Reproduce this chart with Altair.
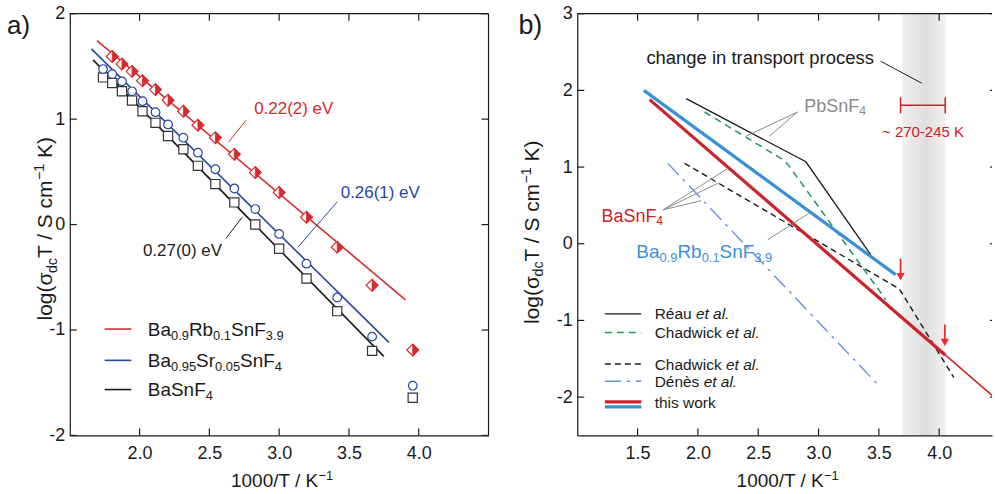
import altair as alt
import pandas as pd

FONT = "Liberation Sans, Arial, Helvetica, sans-serif"

# ---------------- panel a) data ----------------
inv_T = [1.738, 1.804, 1.874, 1.946, 2.021, 2.114, 2.204, 2.314, 2.418, 2.543,
         2.679, 2.829, 3.0, 3.196, 3.416, 3.666, 3.957]
y_BaSnF4 = [1.396, 1.342, 1.264, 1.176, 1.075, 0.965, 0.840, 0.714, 0.557, 0.384,
            0.210, 0.0, -0.229, -0.512, -0.821, -1.198, -1.642]
y_BaSr = [1.475, 1.427, 1.358, 1.264, 1.170, 1.066, 0.950, 0.824, 0.682, 0.525,
          0.342, 0.147, -0.089, -0.371, -0.692, -1.063, -1.528]
y_BaRb = [1.594, 1.522, 1.453, 1.365, 1.280, 1.179, 1.075, 0.943, 0.824, 0.667,
          0.493, 0.305, 0.069, -0.214, -0.575, -1.189]   # from inv_T[1:]
fit_BaRb_x = [1.695, 3.905]; fit_BaRb_y = [1.745, -0.714]
fit_BaSr_x = [1.655, 3.786]; fit_BaSr_y = [1.666, -1.118]
fit_BaSnF4_x = [1.667, 3.75]; fit_BaSnF4_y = [1.562, -1.25]
xticks_a = [2.0, 2.5, 3.0, 3.5, 4.0]
yticks_a = [-2, -1, 0, 1, 2]

# ---------------- panel b) data ----------------
reau_x = [1.903, 2.895, 3.432]; reau_y = [1.892, 1.069, -0.143]
chadPb_x = [2.055, 2.688, 2.722, 2.752, 3.556]; chadPb_y = [1.718, 1.113, 1.078, 1.022, -0.727]
chadBa_x = [1.89, 3.67, 4.121]; chadBa_y = [1.048, -0.59, -1.744]
denes_x = [1.75, 3.488]; denes_y = [1.048, -1.831]
work_Ba_x = [1.60, 4.05]; work_Ba_y = [1.88, -1.45]
work_Ba_ext_x = [4.05, 4.438]; work_Ba_ext_y = [-1.45, -1.977]
work_BaRb_x = [1.552, 3.639]; work_BaRb_y = [2.0, -0.403]
band_x = [3.694, 4.052]
range_x = [3.68, 4.05]; range_y = 1.805
arrow_x = [3.68, 4.047]; arrow_top = [-0.195, -1.052]; arrow_tip = [-0.50, -1.355]
xticks_b = [1.5, 2.0, 2.5, 3.0, 3.5, 4.0]
yticks_b = [-2, -1, 0, 1, 2, 3]

# ---------------- geometry / colours ----------------
WA, HA = 420, 423
WB, HB = 416, 423
GAP = 89
kxA, kyA = WA / 3.0, HA / 4.0
kxB, kyB = WB / (4.438 - 1.0), HB / 5.5

BLACK = "#1a1a1a"
RED_A = "#d62a2e"; BLUE_A = "#2747a0"; SQ = "#333333"
RED_B = "#cc2229"; BLUE_B = "#3b8fd6"; GREEN = "#23955a"; DENES = "#6b8fd6"
GRAY = "#8a8a8a"; ARROW = "#ee2a2a"

xA = alt.Scale(domain=[1.5, 4.5], nice=False, zero=False)
yA = alt.Scale(domain=[-2, 2], nice=False, zero=False)
xB = alt.Scale(domain=[1.0, 4.438], nice=False, zero=False)
yB = alt.Scale(domain=[-2.5, 3], nice=False, zero=False)
axXA = alt.Axis(values=xticks_a, format=".1f", title=None, labelPadding=9, ticks=False, grid=False, labelFlush=False, zindex=2)
axYA = alt.Axis(values=yticks_a, labelExpr="'' + datum.value", title=None, labelPadding=5, ticks=False, grid=False, labelFlush=False, zindex=2)
axXB = alt.Axis(values=xticks_b, format=".1f", title=None, labelPadding=9, ticks=False, grid=False, labelFlush=False, zindex=2)
axYB = alt.Axis(values=yticks_b, labelExpr="'' + datum.value", title=None, labelPadding=5, ticks=False, grid=False, labelFlush=False, zindex=2)


def XA(f): return alt.X(f, type="quantitative", scale=xA, axis=axXA)
def YA(f): return alt.Y(f, type="quantitative", scale=yA, axis=axYA)
def XB(f): return alt.X(f, type="quantitative", scale=xB, axis=axXB)
def YB(f): return alt.Y(f, type="quantitative", scale=yB, axis=axYB)


# ---------------- rich text helper (sub/superscripts, italics) ----------------
WID = {' ': 278, '(': 333, ')': 333, '.': 278, '/': 278, '-': 333, '~': 584, '\u2212': 584,
       'a': 556, 'b': 556, 'c': 500, 'd': 556, 'e': 556, 'g': 556, 'h': 556, 'i': 222, 'k': 500,
       'l': 222, 'm': 833, 'n': 556, 'o': 556, 'p': 556, 'r': 333, 's': 500, 't': 278, 'u': 556,
       'v': 500, 'w': 722, '\u00e9': 556, '\u00e8': 556, 'B': 667, 'C': 722, 'D': 722, 'F': 611,
       'K': 667, 'P': 667, 'R': 722, 'S': 667, 'T': 611, 'V': 667, '\u03c3': 600}


def tw(s, fs):
    return sum(WID.get(ch, 556) for ch in s) * fs / 1000.0


def rich(segs, size, cx, cy, kx, ky, color, align="left", rotate=False, ss=0.68):
    pieces = []
    off = 0.0
    for txt, kind in segs:
        fs = size * ss if kind in ("sub", "sup") else size
        shift = 0.20 * size if kind == "sub" else (-0.40 * size if kind == "sup" else 0.0)
        lead = len(txt) - len(txt.lstrip(" "))
        core = txt.strip(" ")
        start = off + tw(" " * lead, fs)
        pieces.append((core, fs, start, shift, kind == "it"))
        off += tw(txt, fs)
    x0 = {"left": 0.0, "center": -off / 2.0, "right": -off}[align]
    rows = []
    for core, fs, start, shift, it in pieces:
        if not core:
            continue
        if rotate:
            x = cx + (0.36 * size + shift) / kx
            y = cy + (x0 + start) / ky
        else:
            x = cx + (x0 + start) / kx
            y = cy - (0.36 * size + shift) / ky
        rows.append(dict(x=x, y=y, t=core, fs=fs, c=color, it=it))
    return rows


def text_layers(rows, X, Y, angle=None):
    out = []
    df = pd.DataFrame(rows)
    for it in (False, True):
        d = df[df["it"] == it]
        if len(d) == 0:
            continue
        kw = dict(align="left", baseline="alphabetic", font=FONT)
        if it:
            kw["fontStyle"] = "italic"
        if angle is not None:
            kw["angle"] = angle
        out.append(alt.Chart(d).mark_text(**kw).encode(
            x=X("x"), y=Y("y"), text="t:N",
            size=alt.Size("fs:Q", scale=None), color=alt.Color("c:N", scale=None)))
    return out


def line(xs, ys, X, Y, color, width, dash=None):
    kw = dict(color=color, strokeWidth=width)
    if dash is not None:
        kw["strokeDash"] = dash
    return alt.Chart(pd.DataFrame({"x": xs, "y": ys})).mark_line(**kw).encode(x=X("x"), y=Y("y"))


def seg(x1, y1, x2, y2, X, Y, color, width=1.0):
    return alt.Chart(pd.DataFrame({"x": [x1], "y": [y1], "x2": [x2], "y2": [y2]})).mark_rule(
        color=color, strokeWidth=width).encode(x=X("x"), y=Y("y"), x2="x2", y2="y2")


one = pd.DataFrame({"a": [0]})
YT = 21  # y-title font size

# ======================= panel a) =======================
LA = []
LA.append(alt.Chart(one).mark_rect(fill="white").encode(
    x=alt.value(-70), x2=alt.value(WA + GAP / 2), y=alt.value(-13), y2=alt.value(494 - 13)))
# frame + inward ticks
LA.append(alt.Chart(one).mark_rule(color=BLACK, strokeWidth=1.2).encode(x=alt.value(0), x2=alt.value(WA), y=alt.value(0)))
LA.append(alt.Chart(one).mark_rule(color=BLACK, strokeWidth=1.2).encode(x=alt.value(WA), y=alt.value(0), y2=alt.value(HA)))
tx = pd.DataFrame({"v": xticks_a}); ty = pd.DataFrame({"v": yticks_a})
LA.append(alt.Chart(tx).mark_rule(color=BLACK, strokeWidth=1.2).encode(x=XA("v"), y=alt.value(HA), y2=alt.value(HA - 7)))
LA.append(alt.Chart(tx).mark_rule(color=BLACK, strokeWidth=1.2).encode(x=XA("v"), y=alt.value(0), y2=alt.value(7)))
LA.append(alt.Chart(ty).mark_rule(color=BLACK, strokeWidth=1.2).encode(y=YA("v"), x=alt.value(0), x2=alt.value(7)))
LA.append(alt.Chart(ty).mark_rule(color=BLACK, strokeWidth=1.2).encode(y=YA("v"), x=alt.value(WA - 7), x2=alt.value(WA)))
# fits
LA.append(line(fit_BaSnF4_x, fit_BaSnF4_y, XA, YA, BLACK, 1.6))
LA.append(line(fit_BaSr_x, fit_BaSr_y, XA, YA, BLUE_A, 1.6))
LA.append(line(fit_BaRb_x, fit_BaRb_y, XA, YA, RED_A, 1.6))
# points
dSq = pd.DataFrame({"x": inv_T, "y": y_BaSnF4})
dCi = pd.DataFrame({"x": inv_T, "y": y_BaSr})
dDi = pd.DataFrame({"x": inv_T[1:], "y": y_BaRb})
LA.append(alt.Chart(dSq).mark_point(shape="square", filled=True, fill="white", stroke=SQ, strokeWidth=1.2, size=85, opacity=1).encode(x=XA("x"), y=YA("y")))
LA.append(alt.Chart(dCi).mark_point(shape="circle", filled=True, fill="white", stroke=BLUE_A, strokeWidth=1.2, size=75, opacity=1).encode(x=XA("x"), y=YA("y")))
LA.append(alt.Chart(dDi).mark_point(shape="diamond", filled=True, fill="white", stroke=RED_A, strokeWidth=1.2, size=140, opacity=1).encode(x=XA("x"), y=YA("y")))
LA.append(alt.Chart(dDi).mark_point(shape="M0,-1L1,0L0,1Z", filled=True, fill=RED_A, stroke=RED_A, strokeWidth=0.8, size=140, opacity=1).encode(x=XA("x"), y=YA("y")))
# leaders
LA.append(seg(2.638, 0.783, 2.762, 0.988, XA, YA, RED_A, 1.0))
LA.append(seg(3.416, 0.216, 3.138, -0.21, XA, YA, BLUE_A, 1.0))
LA.append(seg(2.619, -0.131, 2.738, 0.074, XA, YA, BLACK, 1.0))
# legend lines
for yy, cc in [(-0.991, RED_A), (-1.288, BLUE_A), (-1.565, BLACK)]:
    LA.append(seg(1.75, yy, 1.941, yy, XA, YA, cc, 1.6))
rowsA = []
rowsA += rich([("0.22(2) eV", "n")], 17, 2.821, 1.102, kxA, kyA, RED_A)
rowsA += rich([("0.26(1) eV", "n")], 17, 3.441, 0.31, kxA, kyA, BLUE_A)
rowsA += rich([("0.27(0) eV", "n")], 17, 2.024, -0.241, kxA, kyA, BLACK)
rowsA += rich([("Ba", "n"), ("0.9", "sub"), ("Rb", "n"), ("0.1", "sub"), ("SnF", "n"), ("3.9", "sub")], 19, 2.059, -0.991, kxA, kyA, BLACK)
rowsA += rich([("Ba", "n"), ("0.95", "sub"), ("Sr", "n"), ("0.05", "sub"), ("SnF", "n"), ("4", "sub")], 19, 2.059, -1.288, kxA, kyA, BLACK)
rowsA += rich([("BaSnF", "n"), ("4", "sub")], 19, 2.059, -1.565, kxA, kyA, BLACK)
rowsA += rich([("1000/T / K", "n"), ("\u22121", "sup")], 19, 3.021, 2 - (481 - 13) / kyA, kxA, kyA, BLACK, align="center")
rowsA += rich([("a)", "n")], 26, 1.05, 1.90, kxA, kyA, BLACK)
LA += text_layers(rowsA, XA, YA)
rotA = rich([("log(\u03c3", "n"), ("dc", "sub"), ("T / S cm", "n"), ("\u22121", "sup"), (" K)", "n")],
            YT, 1.5 - 25 / kxA, -0.04, kxA, kyA, BLACK, align="center", rotate=True)
LA += text_layers(rotA, XA, YA, angle=270)

left = alt.layer(*LA).properties(width=WA, height=HA)

# ======================= panel b) =======================
LB = []
LB.append(alt.Chart(one).mark_rect(fill="white").encode(
    x=alt.value(-GAP / 2), x2=alt.value(WB), y=alt.value(-13), y2=alt.value(494 - 13)))
grad = alt.LinearGradient(gradient="linear", x1=0, x2=1, y1=0, y2=0,
                          stops=[alt.GradientStop(color="#efefef", offset=0),
                                 alt.GradientStop(color="#dedede", offset=0.55),
                                 alt.GradientStop(color="#f1f1f1", offset=1)])
LB.append(alt.Chart(pd.DataFrame({"b0": [band_x[0]], "b1": [band_x[1]]})).mark_rect(fill=grad).encode(
    x=XB("b0"), x2="b1", y=alt.value(0), y2=alt.value(HB)))
LB.append(alt.Chart(one).mark_rule(color=BLACK, strokeWidth=1.2).encode(x=alt.value(0), x2=alt.value(WB), y=alt.value(0)))
txb = pd.DataFrame({"v": xticks_b}); tyb = pd.DataFrame({"v": yticks_b})
LB.append(alt.Chart(txb).mark_rule(color=BLACK, strokeWidth=1.2).encode(x=XB("v"), y=alt.value(HB), y2=alt.value(HB - 7)))
LB.append(alt.Chart(txb).mark_rule(color=BLACK, strokeWidth=1.2).encode(x=XB("v"), y=alt.value(0), y2=alt.value(7)))
LB.append(alt.Chart(tyb).mark_rule(color=BLACK, strokeWidth=1.2).encode(y=YB("v"), x=alt.value(0), x2=alt.value(7)))
# inward ticks of the (off-page) right frame, only their tips are visible
LB.append(alt.Chart(tyb).mark_rule(color=BLACK, strokeWidth=1.2).encode(y=YB("v"), x=alt.value(WB - 2), x2=alt.value(WB)))
# literature lines
LB.append(line(reau_x, reau_y, XB, YB, BLACK, 1.3))
LB.append(line(chadPb_x, chadPb_y, XB, YB, GREEN, 1.5, [7, 5]))
LB.append(line(chadBa_x, chadBa_y, XB, YB, BLACK, 1.4, [6, 4]))
LB.append(line(denes_x, denes_y, XB, YB, DENES, 1.4, [16, 6, 3, 6]))
# this work
LB.append(line(work_Ba_ext_x, work_Ba_ext_y, XB, YB, RED_B, 1.5))
LB.append(line(work_Ba_x, work_Ba_y, XB, YB, RED_B, 3.2))
LB.append(line(work_BaRb_x, work_BaRb_y, XB, YB, BLUE_B, 3.2))
# leaders
for (a, b, c, d) in [(2.826, 1.718, 2.399, 1.403), (2.826, 1.718, 2.592, 1.403)]:
    LB.append(seg(a, b, c, d, XB, YB, GRAY, 1.0))
for (c, d) in [(2.248, 0.983), (2.165, 0.788), (2.027, 0.562)]:
    LB.append(seg(1.711, 0.442, c, d, XB, YB, GRAY, 1.0))
LB.append(seg(2.579, 0.052, 2.923, 0.399, XB, YB, GRAY, 1.0))
LB.append(seg(3.515, 2.38, 3.854, 2.095, XB, YB, BLACK, 1.0))
# range bar
LB.append(seg(range_x[0], range_y, range_x[1], range_y, XB, YB, RED_B, 1.5))
for xx in range_x:
    LB.append(seg(xx, range_y - 0.105, xx, range_y + 0.105, XB, YB, RED_B, 1.5))
# arrows
dAr = pd.DataFrame({"x": arrow_x, "top": arrow_top, "tip": arrow_tip,
                    "head": [t + 0.07 for t in arrow_tip]})
LB.append(alt.Chart(dAr).mark_rule(color=ARROW, strokeWidth=1.8).encode(x=XB("x"), y=YB("top"), y2="head"))
LB.append(alt.Chart(dAr).mark_point(shape="triangle-down", filled=True, color=ARROW, size=70, opacity=1).encode(x=XB("x"), y=YB("head")))
# legend
for yy, cc, ww, dd in [(-0.914, BLACK, 1.3, None), (-1.157, GREEN, 1.5, [7, 5]), (-1.568, BLACK, 1.4, [6, 4]),
                       (-1.794, DENES, 1.4, [16, 6, 3, 6]), (-2.062, RED_B, 3.2, None), (-2.127, BLUE_B, 3.2, None)]:
    LB.append(line([1.229, 1.531], [yy, yy], XB, YB, cc, ww, dd))
rowsB = []
LX = 1.642
rowsB += rich([("R\u00e9au ", "n"), ("et al.", "it")], 15.5, LX, -0.914, kxB, kyB, BLACK)
rowsB += rich([("Chadwick ", "n"), ("et al.", "it")], 15.5, LX, -1.157, kxB, kyB, BLACK)
rowsB += rich([("Chadwick ", "n"), ("et al.", "it")], 15.5, LX, -1.568, kxB, kyB, BLACK)
rowsB += rich([("D\u00e9n\u00e8s ", "n"), ("et al.", "it")], 15.5, LX, -1.794, kxB, kyB, BLACK)
rowsB += rich([("this work", "n")], 15.5, LX, -2.075, kxB, kyB, BLACK)
rowsB += rich([("change in transport process", "n")], 18.5, 1.573, 2.432, kxB, kyB, BLACK)
rowsB += rich([("PbSnF", "n"), ("4", "sub")], 18, 2.882, 1.804, kxB, kyB, GRAY)
rowsB += rich([("BaSnF", "n"), ("4", "sub")], 18, 1.201, 0.373, kxB, kyB, RED_B)
rowsB += rich([("Ba", "n"), ("0.9", "sub"), ("Rb", "n"), ("0.1", "sub"), ("SnF", "n"), ("3.9", "sub")], 19, 1.49, -0.095, kxB, kyB, BLUE_B)
rowsB += rich([("~ 270-245 K", "n")], 15, 3.866, 1.456, kxB, kyB, RED_B, align="center")
rowsB += rich([("1000/T / K", "n"), ("\u22121", "sup")], 19, 2.744, 3 - (481 - 13) / kyB, kxB, kyB, BLACK, align="center")
rowsB += rich([("b)", "n")], 27, 0.512, 2.866, kxB, kyB, BLACK)
LB += text_layers(rowsB, XB, YB)
rotB = rich([("log(\u03c3", "n"), ("dc", "sub"), ("T / S cm", "n"), ("\u22121", "sup"), (" K)", "n")],
            YT, 1.0 - 46 / kxB, 0.15, kxB, kyB, BLACK, align="center", rotate=True)
LB += text_layers(rotB, XB, YB, angle=270)

right = alt.layer(*LB).properties(width=WB, height=HB)

chart = alt.hconcat(left, right, spacing=GAP, bounds="flush").properties(
    padding=0, background="white"
).configure_view(stroke=None).configure_axis(
    domainColor=BLACK, domainWidth=1.2, labelColor=BLACK, labelFont=FONT, labelFontSize=18,
    grid=False, ticks=False, zindex=2
)

chart.save("out.html", embed_options={"renderer": "svg", "actions": False})
